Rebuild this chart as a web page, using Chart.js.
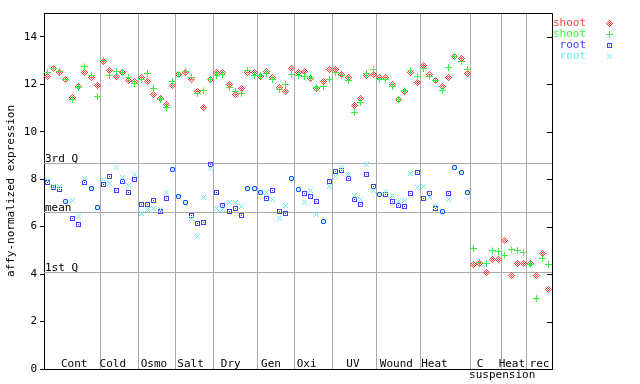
<!DOCTYPE html>
<html><head><meta charset="utf-8">
<script src="https://cdn.jsdelivr.net/npm/chart.js@4/dist/chart.umd.min.js"></script>
<style>html,body{margin:0;padding:0;background:#fff;}#wrap{width:640px;height:384px;position:relative;}</style>
</head><body><div id="wrap"><canvas id="c" width="640" height="384"></canvas></div>
<script>
// ---- data ----
const groupNames = ['Cont','Cold','Osmo','Salt','Dry','Gen','Oxi','UV','Wound','Heat','C','Heat','rec'];
const groupSubNames = ['','','','','','','','','','','suspension','',''];
const groupSizes = [9,6,6,6,7,6,6,7,7,8,5,4,4];
const yTickValues = [0,2,4,6,8,10,12,14];
const refNames = ['3rd Q','mean','1st Q'];
const refValues = [8.67, 6.62, 4.09];
const seriesNames = ['shoot','shoot','root','root'];
const yTitle = 'affy-normalized expression';

const shootRed = [
  12.32,12.65,12.48,12.19,11.43,11.89,12.48,12.27,11.94,
  12.95,12.57,12.32,12.48,12.15,12.10,
  12.27,12.10,11.56,11.39,11.13,11.94,
  12.40,12.48,12.19,11.68,11.00,12.19,
  12.48,12.48,11.98,11.56,11.81,12.48,12.48,
  12.32,12.53,12.27,11.85,11.68,12.65,
  12.48,12.53,12.23,11.81,12.10,12.61,
  12.61,12.40,12.27,11.09,11.39,12.36,12.40,
  12.27,12.27,11.98,11.35,11.68,12.48,12.06,
  12.78,12.40,12.15,11.89,12.27,13.16,13.07,12.44,
  4.39,4.43,4.05,4.61,4.61,
  5.41,3.96,4.43,4.43,
  4.45,3.92,4.86,3.37
];
const shootGreen = [
  12.50,12.68,12.53,12.19,11.35,11.85,12.74,12.38,11.47,
  12.99,12.36,12.53,12.48,12.27,12.02,
  12.19,12.44,11.81,11.35,11.00,12.10,
  12.40,12.53,12.27,11.60,11.72,12.19,
  12.36,12.40,11.85,11.68,11.60,12.57,12.36,
  12.36,12.44,12.19,11.77,11.98,12.40,
  12.36,12.32,12.27,11.85,11.89,12.19,
  12.48,12.36,12.15,10.80,11.22,12.44,12.61,
  12.19,12.19,11.89,11.35,11.72,12.57,12.32,
  12.65,12.32,12.15,11.72,12.70,13.16,12.95,12.61,
  5.07,4.48,4.43,4.99,4.95,
  4.77,5.03,4.99,4.90,
  4.39,2.95,4.64,4.39
];
const rootBlue = [
  7.87,7.66,7.57,7.04,6.33,6.07,7.87,7.62,6.82,
  7.79,8.11,7.51,7.91,7.45,8.00,
  6.93,6.93,7.10,6.62,7.18,8.42,
  7.25,7.00,6.45,6.12,6.16,8.60,
  7.42,6.87,6.62,6.75,6.45,7.59,7.59,
  7.42,7.17,7.51,6.62,6.54,8.01,
  7.55,7.38,7.25,7.04,6.20,7.89,
  8.31,8.35,8.01,7.13,6.92,8.18,7.68,
  7.34,7.34,7.04,6.87,6.83,7.38,8.27,
  7.17,7.38,6.75,6.62,7.38,8.48,8.27,7.42,
  null,null,null,null,null,
  null,null,null,null,
  null,null,null,null
];
const rootCyan = [
  7.95,7.68,7.70,7.04,7.08,6.41,8.04,7.62,6.82,
  8.00,7.83,8.49,8.08,7.74,8.21,
  6.54,6.71,6.75,6.71,7.42,8.42,
  7.25,7.00,6.33,5.57,7.21,8.44,
  6.75,6.71,7.00,7.00,6.83,7.59,7.59,
  7.42,7.42,7.13,6.33,6.87,8.01,
  7.55,7.00,7.51,6.49,6.20,7.70,
  8.10,8.48,8.18,7.30,7.13,8.60,7.51,
  7.34,7.47,7.30,7.04,7.08,8.22,7.63,
  7.68,7.21,6.83,6.62,7.13,8.48,8.27,7.42,
  null,null,null,null,null,
  null,null,null,null,
  null,null,null,null
];

// ---- styling ----
const colors = ['#ff4040','#40f040','#4040ff','#60f0f0'];
const kinds = ['diamond','plus','square','cross'];
const FONT = '"DejaVu Sans Mono", monospace';
const labelShift = [2,-6.5,-3,-4,-4.5,-5,-7,-1.5,-2,-11,-6,-2.5,0];
const subShift = 16;

function markerSize(kind){ return (kind==='plus'||kind==='diamond') ? 7 : 5; }
function paintMarker(g, kind, color, ox, oy){
  const n = markerSize(kind), h = (n-1)/2;
  g.fillStyle = color;
  for (let i=0;i<n;i++) for (let j=0;j<n;j++){
    const dx=i-h, dy=j-h, ad=Math.abs(dx), bd=Math.abs(dy);
    let on=false;
    if (kind==='diamond') on = (ad+bd<=3) && ((ad+bd)%2===1);
    else if (kind==='plus') on = (dx===0||dy===0);
    else if (kind==='square') on = (ad===h||bd===h||(dx===0&&dy===0));
    else if (kind==='cross') on = (ad===bd);
    if (on) g.fillRect(ox+i, oy+j, 1, 1);
  }
}
function makeMarker(kind, color){
  const n = markerSize(kind);
  const c = document.createElement('canvas');
  c.width = n; c.height = n;
  paintMarker(c.getContext('2d'), kind, color, 0, 0);
  return c;
}
const markers = kinds.map((k,i)=>makeMarker(k, colors[i]));

const boundaries = [0];
groupSizes.forEach(s => boundaries.push(boundaries[boundaries.length-1] + s));
const nSamples = boundaries[boundaries.length-1];

function toPoints(arr){
  return arr.map((v,i)=>({x:i+0.5, y:v})).filter(p=>p.y!==null);
}
const allSeries = [shootRed, shootGreen, rootBlue, rootCyan];

const decor = {
  id:'decor',
  beforeDatasetsDraw(chart){
    const {ctx, chartArea:a, scales:{x,y}} = chart;
    ctx.save();
    ctx.strokeStyle = '#aaaaaa'; ctx.lineWidth = 1;
    ctx.font = '11px ' + FONT; ctx.fillStyle = '#000';
    ctx.textAlign = 'left'; ctx.textBaseline = 'alphabetic';
    refValues.forEach((v,i)=>{
      const py = Math.round(y.getPixelForValue(v)) + 0.5;
      ctx.beginPath(); ctx.moveTo(a.left, py); ctx.lineTo(a.right, py); ctx.stroke();
      ctx.fillText(refNames[i], a.left + 1, py - 2);
    });
    ctx.textAlign = 'center';
    groupNames.forEach((name,i)=>{
      const cx = x.getPixelForValue(boundaries[i] + groupSizes[i]/2) + labelShift[i];
      ctx.fillText(name, cx, a.bottom - 2);
      if (groupSubNames[i]) ctx.fillText(groupSubNames[i], cx + subShift - labelShift[i], a.bottom + 9);
    });
    ctx.restore();
    ctx.imageSmoothingEnabled = false;
  },
  afterDraw(chart){
    const {ctx, chartArea:a, scales:{y}} = chart;
    ctx.save();
    ctx.strokeStyle = '#000'; ctx.lineWidth = 1;
    ctx.beginPath();
    ctx.moveTo(Math.round(a.left)+0.5, Math.round(a.top)+0.5);
    ctx.lineTo(Math.round(a.right)+0.5, Math.round(a.top)+0.5);
    ctx.lineTo(Math.round(a.right)+0.5, Math.round(a.bottom)+0.5);
    ctx.stroke();
    yTickValues.forEach(v=>{
      const py = Math.round(y.getPixelForValue(v)) + 0.5;
      ctx.beginPath(); ctx.moveTo(a.right - 5, py); ctx.lineTo(a.right, py); ctx.stroke();
    });
    ctx.font = '11px ' + FONT;
    ctx.textAlign = 'right'; ctx.textBaseline = 'middle';
    seriesNames.forEach((n,i)=>{
      const ry = a.top + 10.5 + i*11;
      ctx.fillStyle = colors[i];
      ctx.fillText(n, a.right + 34, ry);
      const s = markerSize(kinds[i]);
      paintMarker(ctx, kinds[i], colors[i], Math.round(a.right + 57 - s/2), Math.round(ry - s/2));
    });
    ctx.restore();
  }
};

new Chart(document.getElementById('c'), {
  type:'scatter',
  data:{
    datasets: allSeries.map((arr,i)=>({
      label: seriesNames[i],
      data: toPoints(arr),
      pointStyle: markers[i],
      pointRadius: 3,
      showLine: false,
      order: 4 - i
    }))
  },
  options:{
    responsive:false, animation:false, devicePixelRatio:1,
    layout:{padding:{top:13, right:88, left:0, bottom:0}},
    plugins:{legend:{display:false}, tooltip:{enabled:false}},
    scales:{
      x:{
        type:'linear', min:0, max:nSamples,
        afterBuildTicks: s => { s.ticks = boundaries.map(v=>({value:v})); },
        ticks:{display:false},
        grid:{color:'#aaaaaa', lineWidth:1, drawTicks:false},
        border:{display:true, color:'#000', width:1},
        afterFit: s => { s.height = 15; }
      },
      y:{
        type:'linear', min:0, max:15,
        afterBuildTicks: s => { s.ticks = yTickValues.map(v=>({value:v})); },
        ticks:{color:'#000', font:{family:FONT, size:11}, padding:3},
        grid:{drawOnChartArea:false, drawTicks:true, tickLength:4, color:'#000'},
        border:{display:true, color:'#000', width:1},
        title:{display:true, text:yTitle, color:'#000', font:{family:FONT, size:11}, padding:{top:5, bottom:0}},
        afterFit: s => { s.width = 44; }
      }
    }
  },
  plugins:[decor]
});
</script>
</body></html>
